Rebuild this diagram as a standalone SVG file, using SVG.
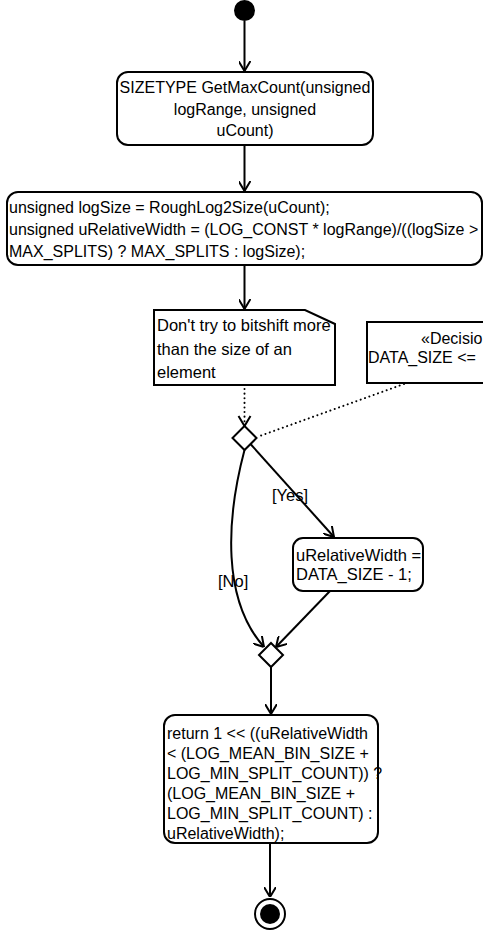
<svg xmlns="http://www.w3.org/2000/svg" width="483" height="935" viewBox="0 0 483 935">
<style>
  .node { fill: #ffffff; stroke: #000000; stroke-width: 2; }
  .t { font-family: "Liberation Sans", Arial, sans-serif; font-size: 16.5px; fill: #000000; }
  .t16 { font-size: 16px; }
  .edge { fill: none; stroke: #000000; stroke-width: 2; }
  .dot { fill: none; stroke: #000000; stroke-width: 2; stroke-dasharray: 0.1 4.5; stroke-linecap: round; }
</style>
<defs>
  <marker id="arr" viewBox="0 0 10 12" refX="10" refY="6" markerWidth="10" markerHeight="12" markerUnits="userSpaceOnUse" orient="auto">
    <path d="M0,0 L10,6 L0,12" fill="none" stroke="#000" stroke-width="2"/>
  </marker>
</defs>
<rect width="483" height="935" fill="#ffffff"/>

<g id="edges">
  <line class="edge" x1="244.5" y1="21" x2="244.5" y2="71" marker-end="url(#arr)"/>
  <line class="edge" x1="244.5" y1="145" x2="244.5" y2="191" marker-end="url(#arr)"/>
  <line class="edge" x1="244.5" y1="265" x2="244.5" y2="309" marker-end="url(#arr)"/>
  <line class="dot" x1="244.5" y1="389" x2="244.5" y2="424"/>
  <path d="M238.5,416 L244.5,426 L250.5,416" fill="none" stroke="#000" stroke-width="2"/>
  <line class="dot" x1="404" y1="384" x2="257" y2="437"/>
  <line class="edge" x1="250.5" y1="444" x2="334" y2="537" marker-end="url(#arr)"/>
  <path class="edge" d="M244.5,450 C 226,520 222,600 264,647" marker-end="url(#arr)"/>
  <line class="edge" x1="330" y1="591" x2="276" y2="647" marker-end="url(#arr)"/>
  <line class="edge" x1="271" y1="667" x2="271" y2="714" marker-end="url(#arr)"/>
  <line class="edge" x1="270" y1="843" x2="270" y2="897" marker-end="url(#arr)"/>
  <text class="t" x="272" y="501">[Yes]</text>
  <text class="t" x="218" y="587">[No]</text>
</g>

<g id="start">
  <circle cx="244.5" cy="10.5" r="10.5" fill="#000"/>
</g>

<g id="n1">
  <rect class="node" x="117" y="72" width="256" height="73" rx="11"/>
  <text class="t t16" x="245" y="93" text-anchor="middle">SIZETYPE GetMaxCount(unsigned</text>
  <text class="t t16" x="245" y="114.5" text-anchor="middle">logRange, unsigned</text>
  <text class="t t16" x="245" y="136" text-anchor="middle">uCount)</text>
</g>

<g id="n2">
  <rect class="node" x="7" y="192" width="475" height="73" rx="11"/>
  <text class="t t16" x="9" y="213">unsigned logSize = RoughLog2Size(uCount);</text>
  <text class="t t16" x="9" y="235">unsigned uRelativeWidth = (LOG_CONST * logRange)/((logSize &gt;</text>
  <text class="t t16" x="9" y="257">MAX_SPLITS) ? MAX_SPLITS : logSize);</text>
</g>

<g id="note1">
  <path class="node" d="M154,310 L305,310 L335,324 L335,385 L154,385 Z"/>
  <text class="t" x="157" y="331">Don't try to bitshift more</text>
  <text class="t" x="157" y="354.5">than the size of an</text>
  <text class="t" x="157" y="378">element</text>
</g>

<g id="note2">
  <rect class="node" x="367" y="322" width="140" height="61"/>
  <text class="t t16" x="421" y="344">«Decisio</text>
  <text class="t t16" x="368" y="363">DATA_SIZE &lt;=</text>
</g>

<g id="d1">
  <path class="node" d="M244.5,426 L256.5,438 L244.5,450 L232.5,438 Z"/>
</g>

<g id="n3">
  <rect class="node" x="293" y="538" width="130" height="53" rx="10"/>
  <text class="t" x="296" y="561">uRelativeWidth =</text>
  <text class="t" x="296" y="580">DATA_SIZE - 1;</text>
</g>

<g id="d2">
  <path class="node" d="M271,643 L283,655 L271,667 L259,655 Z"/>
</g>

<g id="n4">
  <rect class="node" x="164" y="715" width="214" height="128" rx="11"/>
  <text class="t t16" x="167" y="739">return 1 &lt;&lt; ((uRelativeWidth</text>
  <text class="t t16" x="167" y="759">&lt; (LOG_MEAN_BIN_SIZE +</text>
  <text class="t t16" x="167" y="779">LOG_MIN_SPLIT_COUNT)) ?</text>
  <text class="t t16" x="167" y="799">(LOG_MEAN_BIN_SIZE +</text>
  <text class="t t16" x="167" y="819">LOG_MIN_SPLIT_COUNT) :</text>
  <text class="t t16" x="167" y="839">uRelativeWidth);</text>
</g>

<g id="end">
  <circle cx="270" cy="914" r="15" fill="#fff" stroke="#000" stroke-width="2"/>
  <circle cx="270" cy="914" r="10" fill="#000"/>
</g>
</svg>
